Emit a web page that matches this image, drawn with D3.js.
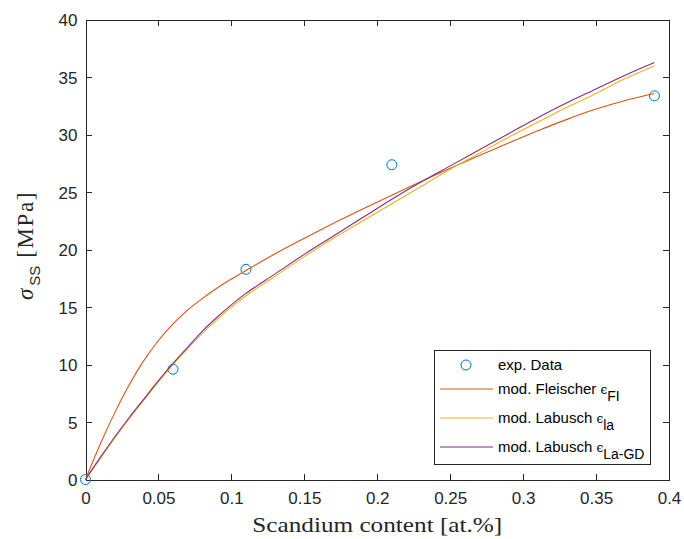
<!DOCTYPE html>
<meta charset="utf-8">
<style>

body {
  margin: 0;
  background: #fff;
}

svg {
  font-family: "Liberation Sans", Arial, sans-serif;
}

.axis path,
.axis line {
  stroke: #262626;
  shape-rendering: crispEdges;
}

.axis text {
  fill: #262626;
  font-size: 17px;
  font-family: "Liberation Sans", Arial, sans-serif;
}

.curve {
  fill: none;
  stroke-width: 1.1px;
}

.legend text {
  font-size: 15px;
  fill: #000;
}

</style>
<body>
<script src="https://cdn.jsdelivr.net/npm/d3@7"></script>
<script>

// experimental points
var expX = [0, 0.06, 0.11, 0.21, 0.39],
    expY = [0, 9.6, 18.3, 27.4, 33.4];

// model curves
var curveX = [0, 0.01, 0.02, 0.03, 0.04, 0.05, 0.06, 0.07, 0.08, 0.09, 0.10, 0.11,
              0.13, 0.15, 0.17, 0.19, 0.21, 0.23, 0.25, 0.27, 0.29, 0.31, 0.33, 0.35, 0.37, 0.39];

var fleischer = [0, 3.05, 5.8, 8.25, 10.35, 12.1, 13.55, 14.75, 15.75, 16.65, 17.45, 18.2,
                 19.65, 21.0, 22.3, 23.55, 24.75, 25.95, 27.1, 28.2, 29.3, 30.35, 31.35, 32.25, 33.0, 33.6];

var labusch = [0, 1.8, 3.6, 5.3, 6.9, 8.5, 10.0, 11.4, 12.7, 13.9, 15.0, 16.0,
               17.7, 19.4, 21.0, 22.5, 24.0, 25.5, 27.0, 28.4, 29.8, 31.1, 32.4, 33.6, 34.9, 36.0];

var labuschGD = [0, 1.9, 3.7, 5.4, 7.0, 8.6, 10.1, 11.5, 12.9, 14.1, 15.2, 16.2,
                 17.9, 19.6, 21.2, 22.8, 24.4, 25.9, 27.3, 28.7, 30.1, 31.5, 32.8, 34.0, 35.2, 36.3];

var xTicks = [0, 0.05, 0.1, 0.15, 0.2, 0.25, 0.3, 0.35, 0.4],
    yTicks = [0, 5, 10, 15, 20, 25, 30, 35, 40];

var colors = {
  exp: "#0072BD",
  fleischer: "#D95319",
  labusch: "#EDB120",
  labuschGD: "#7E2F8E"
};

var width = 684,
    height = 539,
    pLeft = 85.5,
    pRight = 669,
    pTop = 20,
    pBottom = 479.5;

var x = d3.scaleLinear()
    .domain([0, 0.4])
    .range([pLeft, pRight]);

var y = d3.scaleLinear()
    .domain([0, 40])
    .range([pBottom, pTop]);

var svg = d3.select("body").append("svg")
    .attr("width", width)
    .attr("height", height);

// X axes
svg.append("g")
    .attr("class", "x axis")
    .attr("transform", "translate(0," + pBottom + ")")
    .call(d3.axisBottom(x).tickValues(xTicks).tickSize(-6).tickSizeOuter(0)
      .tickFormat(function(d) { return String(d); }))
    .selectAll("text")
      .attr("y", 12)
      .attr("dy", ".71em");

svg.append("g")
    .attr("class", "x axis")
    .attr("transform", "translate(0," + pTop + ")")
    .call(d3.axisTop(x).tickValues(xTicks).tickSize(-6).tickSizeOuter(0).tickFormat(""));

// Y axes
svg.append("g")
    .attr("class", "y axis")
    .attr("transform", "translate(" + pLeft + ",0)")
    .call(d3.axisLeft(y).tickValues(yTicks).tickSize(-6).tickSizeOuter(0))
    .selectAll("text")
      .attr("x", -8)
      .attr("dy", ".35em");

svg.append("g")
    .attr("class", "y axis")
    .attr("transform", "translate(" + pRight + ",0)")
    .call(d3.axisRight(y).tickValues(yTicks).tickSize(-6).tickSizeOuter(0).tickFormat(""));

// experimental data
svg.append("g").selectAll("circle")
    .data(expX)
  .enter().append("circle")
    .attr("cx", function(d) { return x(d); })
    .attr("cy", function(d, i) { return y(expY[i]); })
    .attr("r", 5)
    .style("fill", "none")
    .style("stroke", colors.exp)
    .style("stroke-width", 1);

var line = d3.line()
    .x(function(d, i) { return x(curveX[i]); })
    .y(function(d) { return y(d); })
    .curve(d3.curveCatmullRom.alpha(0.5));

svg.append("path").attr("class", "curve").attr("d", line(fleischer)).style("stroke", colors.fleischer);
svg.append("path").attr("class", "curve").attr("d", line(labusch)).style("stroke", colors.labusch);
svg.append("path").attr("class", "curve").attr("d", line(labuschGD)).style("stroke", colors.labuschGD);

// axis labels
svg.append("text")
    .attr("x", (pLeft + pRight) / 2)
    .attr("y", 532)
    .attr("text-anchor", "middle")
    .attr("textLength", 250)
    .attr("lengthAdjust", "spacingAndGlyphs")
    .style("font-family", "'Liberation Serif', serif")
    .style("font-size", "21px")
    .style("fill", "#262626")
    .text("Scandium content [at.%]");

var ylab = svg.append("text")
    .attr("transform", "translate(33,300) rotate(-90)")
    .attr("text-anchor", "start")
    .style("font-family", "'Liberation Serif', serif")
    .style("font-size", "23px")
    .style("fill", "#262626");
ylab.append("tspan").style("font-style", "italic").text("σ");
ylab.append("tspan").attr("dx", 3).attr("dy", 7).style("font-family", "'Liberation Sans', Arial, sans-serif")
    .style("font-size", "15px").text("SS");
ylab.append("tspan").attr("dx", 8).attr("dy", -7).attr("textLength", 65).text("[MPa]");

// legend
var legend = svg.append("g").attr("class", "legend");

legend.append("rect")
    .attr("x", 434.5)
    .attr("y", 350.5)
    .attr("width", 216)
    .attr("height", 114)
    .style("fill", "#fff")
    .style("stroke", "#262626")
    .style("stroke-width", 1);

var entries = [
  {name: "exp. Data", sub: null, key: "exp", cy: 365},
  {name: "mod. Fleischer ", sub: "FI", key: "fleischer", cy: 389},
  {name: "mod. Labusch ", sub: "la", key: "labusch", cy: 418},
  {name: "mod. Labusch ", sub: "La-GD", key: "labuschGD", cy: 447}
];

entries.forEach(function(e) {
  if (e.key == "exp") {
    legend.append("circle")
        .attr("cx", 466)
        .attr("cy", e.cy)
        .attr("r", 5)
        .style("fill", "none")
        .style("stroke", colors.exp);
  } else {
    legend.append("line")
        .attr("x1", 440)
        .attr("x2", 493)
        .attr("y1", e.cy)
        .attr("y2", e.cy)
        .style("stroke", colors[e.key])
        .style("stroke-width", 1.1);
  }
  var t = legend.append("text")
      .attr("x", 498)
      .attr("y", e.cy + 5);
  t.append("tspan").text(e.name);
  if (e.sub) {
    t.append("tspan").style("font-family", "'DejaVu Serif', serif").style("font-size", "12px").text("ϵ");
    t.append("tspan").attr("dy", 7).style("font-size", "14px").text(e.sub);
  }
});

</script>
